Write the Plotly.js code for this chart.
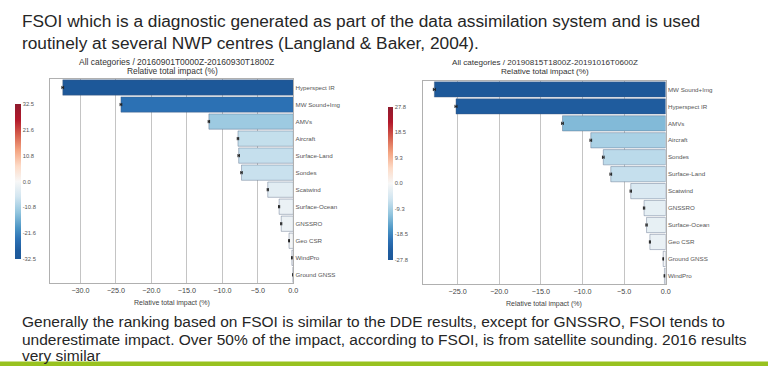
<!DOCTYPE html>
<html>
<head>
<meta charset="utf-8">
<script src="https://cdn.plot.ly/plotly-3.0.1.min.js"></script>
<style>html,body{margin:0;padding:0;background:#fff;}#chart{width:768px;height:366px;}</style>
</head>
<body>
<div id="chart"></div>
<script>
// ---- data ----
const cats2016 = ['Hyperspect IR','MW Sound+Img','AMVs','Aircraft','Surface-Land','Sondes','Scatwind','Surface-Ocean','GNSSRO','Geo CSR','WindPro','Ground GNSS'];
const vals2016 = [-32.5,-24.3,-11.9,-7.8,-7.7,-7.3,-3.6,-2.0,-1.7,-0.6,-0.2,-0.05];
const err2016  = [0.12,0.12,0.1,0.1,0.1,0.1,0.08,0.08,0.08,0.06,0.04,0.04];
const cats2019 = ['MW Sound+Img','Hyperspect IR','AMVs','Aircraft','Sondes','Surface-Land','Scatwind','GNSSRO','Surface-Ocean','Geo CSR','Ground GNSS','WindPro'];
const vals2019 = [-27.8,-25.2,-12.4,-9.0,-7.5,-6.6,-4.2,-2.6,-2.3,-1.9,-0.3,-0.15];
const err2019  = [0.12,0.12,0.1,0.1,0.1,0.1,0.08,0.08,0.08,0.06,0.04,0.04];
const cbTicks2016 = [-32.5,-21.6,-10.8,0.0,10.8,21.6,32.5];
const cbTicks2019 = [-27.8,-18.5,-9.3,0.0,9.3,18.5,27.8];
const title2016 = 'All categories / 20160901T0000Z-20160930T1800Z';
const title2019 = 'All categories / 20190815T1800Z-20191016T0600Z';
const subTitle = 'Relative total impact (%)';
const xTitle = 'Relative total impact (%)';
const headLines = ['FSOI which is a diagnostic generated as part of the data assimilation system and is used',
                   'routinely at several NWP centres (Langland &amp; Baker, 2004).'];
const footLines = ['Generally the ranking based on FSOI is similar to the DDE results, except for GNSSRO, FSOI tends to',
                   'underestimate impact. Over 50% of the impact, according to FSOI, is from satellite sounding. 2016 results',
                   'very similar'];

// ---- styling ----
const W = 768, H = 366;
const px = v => v / W, py = v => 1 - v / H;
const rdbu = [[0,'#1d5899'],[0.06,'#1f5da0'],[0.13,'#2d72b5'],[0.2,'#4b95c5'],[0.3,'#92c5de'],[0.4,'#d1e5f0'],
              [0.5,'#f7f7f7'],[0.6,'#fddbc7'],[0.7,'#f4a582'],[0.8,'#d6604d'],[0.9,'#b2182b'],[1,'#8e1b2e']];
const fmt = v => v.toFixed(1);

function barTrace(cats, vals, errs, lim, xa, ya, cbX, cbYc, cbLen, cbThick, ticks) {
  return {
    type: 'bar', orientation: 'h', y: cats, x: vals, xaxis: xa, yaxis: ya,
    marker: {
      color: vals, colorscale: rdbu, cmin: -lim, cmax: lim, showscale: true,
      line: {color: 'rgba(70,90,120,0.55)', width: 0.7},
      colorbar: {
        x: cbX, xanchor: 'left', xpad: 0, y: cbYc, yanchor: 'middle', ypad: 0,
        len: cbLen, lenmode: 'fraction', thickness: cbThick, thicknessmode: 'pixels',
        outlinewidth: 0, ticks: '', tickvals: ticks, ticktext: ticks.map(fmt),
        tickfont: {size: 5.8, color: '#555'}
      }
    },
    error_x: {type: 'data', array: errs, symmetric: true, color: '#222', thickness: 1, width: 1.6},
    hoverinfo: 'x+y'
  };
}

const traces = [
  barTrace(cats2016, vals2016, err2016, 32.5, 'x', 'y', px(15), py(181.5), 155/H, 6, cbTicks2016),
  barTrace(cats2019, vals2019, err2019, 27.8, 'x2', 'y2', px(387.5), py(183.3), 153/H, 5, cbTicks2019)
];

const xCommon = {
  dtick: 5, tick0: 0, tickformat: '.1f', showgrid: true, gridcolor: '#c4c4c4', gridwidth: 1,
  showline: true, mirror: true, linecolor: '#b0b0b0', linewidth: 1, ticks: '', zeroline: false,
  tickfont: {size: 7.2, color: '#444'}, fixedrange: true
};
const yCommon = {
  type: 'category', autorange: 'reversed', side: 'right', showgrid: false, showline: true, mirror: true,
  linecolor: '#b0b0b0', linewidth: 1, ticks: '', tickfont: {size: 6.2, color: '#555'}, fixedrange: true
};

const ann = [];
function txt(t, x, y, size, color, xanchor) {
  ann.push({text: t, x: x, y: y, xref: 'paper', yref: 'paper', xanchor: xanchor || 'center', yanchor: 'middle',
            showarrow: false, font: {size: size, color: color}});
}
txt(title2016, px(176), py(61.5), 8.5, '#333');
txt(subTitle, px(172), py(70.5), 8.4, '#333');
txt(title2019, px(545), py(62.5), 8.1, '#333');
txt(subTitle, px(545), py(71.5), 8.1, '#333');
txt(xTitle, px(171.7), py(303), 7.0, '#444');
txt(xTitle, px(544.2), py(303.5), 7.0, '#444');
txt(headLines[0], px(20), py(21), 17.3, '#262626', 'left');
txt(headLines[1], px(20), py(43), 17.3, '#262626', 'left');
txt(footLines[0], px(20), py(321.5), 15.5, '#262626', 'left');
txt(footLines[1], px(20), py(339.3), 15.5, '#262626', 'left');
txt(footLines[2], px(20), py(355.5), 15.5, '#262626', 'left');

const layout = {
  width: W, height: H, margin: {l: 0, r: 0, t: 0, b: 0},
  paper_bgcolor: '#fff', plot_bgcolor: '#fff', showlegend: false,
  font: {family: 'Liberation Sans, Arial, sans-serif', color: '#333'},
  bargap: 0.1,
  xaxis: Object.assign({}, xCommon, {domain: [px(50), px(293.3)], range: [-34.3, 0], anchor: 'y'}),
  yaxis: Object.assign({}, yCommon, {domain: [82.7/H, 287/H], anchor: 'x'}),
  xaxis2: Object.assign({}, xCommon, {domain: [px(422.7), px(665.7)], range: [-29.2, 0], anchor: 'y2'}),
  yaxis2: Object.assign({}, yCommon, {domain: [81.7/H, 285/H], anchor: 'x2'}),
  annotations: ann,
  shapes: [{type: 'rect', xref: 'paper', yref: 'paper', x0: 0, x1: 1, y0: 0, y1: 4.5/H,
            fillcolor: '#98c21f', line: {width: 0}, layer: 'above'}]
};

Plotly.newPlot('chart', traces, layout, {displayModeBar: false, staticPlot: true});
</script>
</body>
</html>
